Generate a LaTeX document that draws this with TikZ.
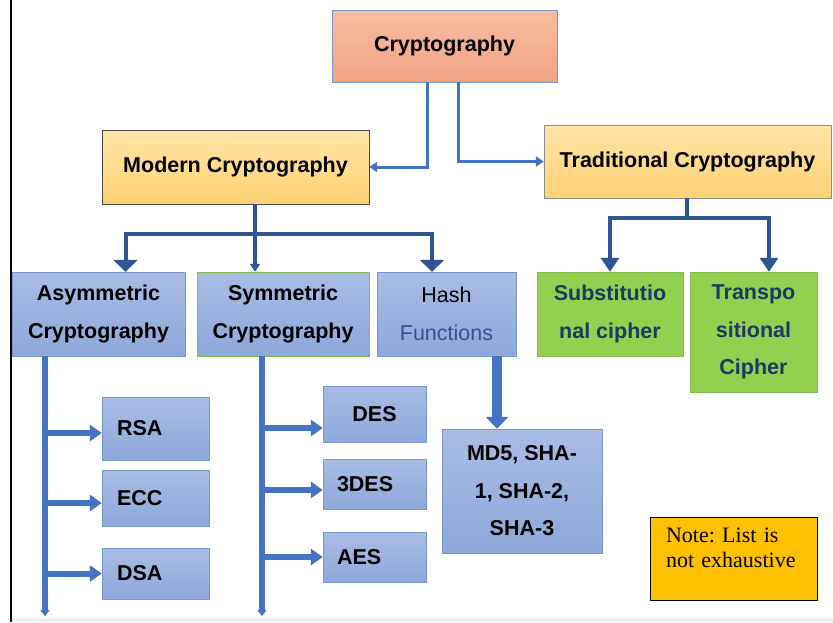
\documentclass[tikz,border=0pt]{standalone}
\usepackage{fontspec}
\setmainfont{Liberation Sans}
\newfontfamily\notefont{Liberation Serif}
\usetikzlibrary{arrows.meta}
\definecolor{salmontop}{HTML}{F7BDA2}
\definecolor{salmonbot}{HTML}{F2A282}
\definecolor{goldtop}{HTML}{FFE4A6}
\definecolor{goldbot}{HTML}{FFD273}
\definecolor{bluetop}{HTML}{A9BCE4}
\definecolor{bluebot}{HTML}{8DA8DA}
\definecolor{blueline}{HTML}{7895CD}
\definecolor{leaf}{HTML}{92D050}
\definecolor{leafline}{HTML}{84BC4C}
\definecolor{navy}{HTML}{203864}
\definecolor{funcblue}{HTML}{2F5597}
\definecolor{linkblue}{HTML}{4472C4}
\definecolor{darklink}{HTML}{2F5597}
\definecolor{noteyellow}{HTML}{FFC000}
\begin{document}
\begin{tikzpicture}[x=1pt, y=-1pt,
  every node/.style={font=\fontsize{21.5}{37.5}\selectfont\bfseries, align=center, inner sep=0pt},
  rootbox/.style={draw=blueline, top color=salmontop, bottom color=salmonbot},
  catbox/.style={draw=black!70, top color=goldtop, bottom color=goldbot},
  bluebox/.style={draw=blueline, top color=bluetop, bottom color=bluebot},
  greenbox/.style={draw=leafline, fill=leaf, text=navy},
  algbox/.style={bluebox, align=left, inner xsep=15pt},
  notebox/.style={draw=black, thick, fill=noteyellow, align=left, inner xsep=16pt,
    font=\notefont\fontsize{22}{25}\selectfont\frenchspacing},
  toplink/.style={draw=linkblue, line width=3pt, -{Triangle[width=10pt,length=8pt]}},
  midlink/.style={draw=darklink, line width=4pt},
  barlink/.style={draw=linkblue, line width=6pt, -{Triangle[width=9pt,length=6pt]}},
  branch/.style={draw=linkblue, line width=6pt, -{Triangle[width=16pt,length=12pt]}}]
\useasboundingbox (0,0) rectangle (833,622);
\fill[black!6] (11,618) rectangle (833,622);
\draw[line width=2pt] (11,0) -- (11,622);
% boxes
\node[rootbox, minimum width=225pt, minimum height=72pt] (crypto) at (444.5,46) {Cryptography};
\node[catbox, minimum width=267pt, minimum height=74pt] (modern) at (235.5,167) {Modern Cryptography};
\node[catbox, draw=black!45, minimum width=287pt, minimum height=73pt] (trad) at (687.5,161.5) {Traditional Cryptography};
\node[bluebox, minimum width=173pt, minimum height=84pt] (asym) at (98.5,314) {Asymmetric\\Cryptography};
\node[bluebox, draw=leafline, minimum width=172pt, minimum height=84pt] (sym) at (283,314) {Symmetric\\Cryptography};
\node[bluebox, font=\fontsize{21.5}{37.5}\selectfont, minimum width=139pt, minimum height=84pt] (hash) at (446.5,314) {Hash\\\textcolor{funcblue}{Functions}};
\node[greenbox, minimum width=146pt, minimum height=84pt] (subst) at (610,314) {Substitutio\\nal cipher};
\node[greenbox, minimum width=127pt, minimum height=120pt] (transp) at (753.5,332) {Transpo\\sitional\\Cipher};
\node[algbox, text width=77pt, minimum height=63pt] (rsa) at (155.5,428.5) {RSA};
\node[algbox, text width=77pt, minimum height=56pt] (ecc) at (155.5,498) {ECC};
\node[algbox, text width=77pt, minimum height=51pt] (dsa) at (155.5,573.5) {DSA};
\node[bluebox, minimum width=103pt, minimum height=56pt] (des) at (374.5,414) {DES};
\node[algbox, inner xsep=14pt, text width=75pt, minimum height=50pt] (tdes) at (374.5,484) {3DES};
\node[algbox, inner xsep=14pt, text width=75pt, minimum height=50pt] (aes) at (374.5,557) {AES};
\node[bluebox, minimum width=160pt, minimum height=124pt] (md5) at (522,491) {MD5, SHA-\\1, SHA-2,\\SHA-3};
\node[notebox, text width=135pt, text depth=46pt, minimum height=83pt] (note) at (733.5,558.5) {Note: List is\\not exhaustive};
% top split
\draw[toplink] ([xshift=-17.5pt]crypto.south) |- (modern.east);
\draw[toplink] ([xshift=13.5pt]crypto.south) |- (trad.west);
% modern branches
\coordinate (mjoin) at (255,234);
\draw[midlink] (modern.south -| mjoin) -- (mjoin);
\draw[midlink, -{Triangle[width=24pt,length=12pt]}] (mjoin) -| ([xshift=27pt]asym.north);
\draw[midlink, -{Triangle[width=10pt,length=8pt]}] (mjoin) -- (sym.north -| mjoin);
\draw[midlink, -{Triangle[width=24pt,length=12pt]}] (mjoin) -| ([xshift=-14.5pt]hash.north);
% traditional branches
\coordinate (tjoin) at (687,218);
\draw[midlink] (trad.south -| tjoin) -- (tjoin);
\draw[midlink, -{Triangle[width=18pt,length=14pt]}] (tjoin) -| (subst.north);
\draw[midlink, -{Triangle[width=18pt,length=14pt]}] (tjoin) -| ([xshift=15.5pt]transp.north);
% lists
\coordinate (abar) at (45,616);
\coordinate (sbar) at (262,616);
\draw[barlink] (asym.south -| abar) -- (abar);
\draw[barlink] (sym.south -| sbar) -- (sbar);
\draw[branch] ([yshift=-4.5pt]rsa.west -| abar) -- ([yshift=-4.5pt]rsa.west);
\draw[branch] ([yshift=-5pt]ecc.west -| abar) -- ([yshift=-5pt]ecc.west);
\draw[branch] (dsa.west -| abar) -- (dsa.west);
\draw[branch] ([yshift=-14pt]des.west -| sbar) -- ([yshift=-14pt]des.west);
\draw[branch] ([yshift=-6pt]tdes.west -| sbar) -- ([yshift=-6pt]tdes.west);
\draw[branch] (aes.west -| sbar) -- (aes.west);
\coordinate (hashout) at ([xshift=50.5pt]hash.south);
\draw[linkblue, line width=10pt, -{Triangle[width=22pt,length=12pt]}] (hashout) -- (hashout |- md5.north);
\end{tikzpicture}
\end{document}
